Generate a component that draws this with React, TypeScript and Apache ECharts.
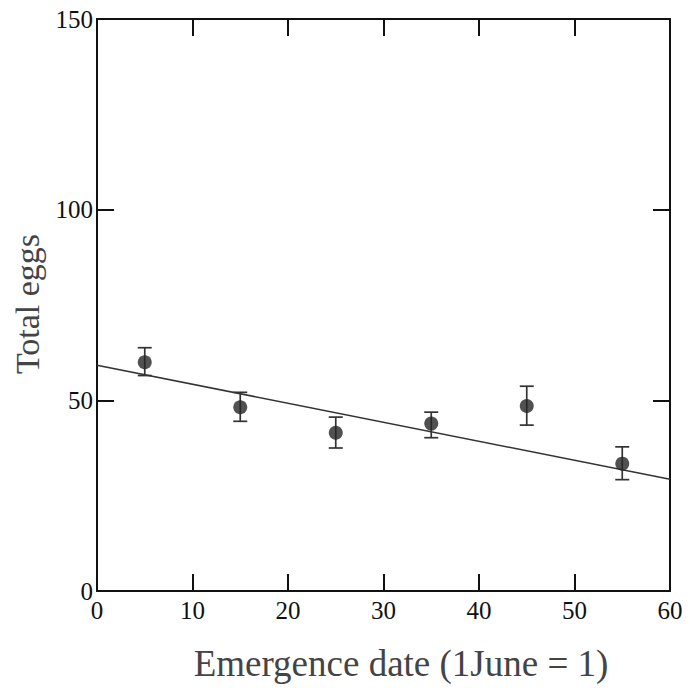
import React, { useEffect, useRef } from "react";
import * as echarts from "echarts";

const xValues = [5, 15, 25, 35, 45, 55];
const meanEggs = [60.0, 48.2, 41.5, 43.9, 48.5, 33.4];
const errLow = [56.5, 44.5, 37.5, 40.2, 43.5, 29.2];
const errHigh = [63.8, 52.1, 45.6, 46.9, 53.7, 37.8];
const fitX = [0, 60];
const fitY = [59.2, 29.3];
const xTitle = "Emergence date (1June = 1)";
const yTitle = "Total eggs";

const FONT = "'Liberation Serif', 'DejaVu Serif', serif";

export default function App() {
  const ref = useRef<HTMLDivElement>(null);
  useEffect(() => {
    document.body.style.margin = "0";
    if (!ref.current) return;
    const chart = echarts.init(ref.current, undefined, { renderer: "svg" });
    const gridLeft = 97;
    const gridTop = 19;
    const gridW = 573;
    const gridH = 572;
    const axisLine = { show: true, onZero: false, lineStyle: { color: "#111", width: 2 } };
    const tick = { show: true, inside: true, length: 17, lineStyle: { color: "#111", width: 2 } };
    const label = { fontFamily: FONT, fontSize: 25, color: "#111" };
    chart.setOption({
      animation: false,
      backgroundColor: "#fff",
      grid: { left: gridLeft, top: gridTop, width: gridW, height: gridH },
      xAxis: [
        {
          type: "value", min: 0, max: 60, interval: 10, position: "bottom",
          axisLine, axisTick: tick, splitLine: { show: false },
          axisLabel: { ...label, margin: 7 },
        },
        {
          type: "value", min: 0, max: 60, interval: 10, position: "top",
          axisLine, axisTick: tick, splitLine: { show: false },
          axisLabel: { show: false },
        },
      ],
      yAxis: [
        {
          type: "value", min: 0, max: 150, interval: 50, position: "left",
          axisLine, axisTick: tick, splitLine: { show: false },
          axisLabel: { ...label, margin: 4 },
        },
        {
          type: "value", min: 0, max: 150, interval: 50, position: "right",
          axisLine, axisTick: tick, splitLine: { show: false },
          axisLabel: { show: false },
        },
      ],
      graphic: [
        {
          type: "text",
          x: 401, y: 663,
          style: {
            text: xTitle, fontFamily: FONT, fontSize: 37, fill: "#444",
            align: "center", verticalAlign: "middle",
          },
        },
        {
          type: "text",
          x: 27, y: 304, rotation: Math.PI / 2,
          style: {
            text: yTitle, fontFamily: FONT, fontSize: 34, fill: "#444",
            align: "center", verticalAlign: "middle",
          },
        },
      ],
      series: [
        {
          type: "line",
          data: fitX.map((x, i) => [x, fitY[i]]),
          symbol: "none",
          lineStyle: { color: "#333", width: 1.5 },
          z: 2,
        },
        {
          type: "custom",
          data: xValues.map((x, i) => [x, errLow[i], errHigh[i]]),
          renderItem: (params: any, api: any) => {
            const x = api.value(0);
            const lo = api.coord([x, api.value(1)]);
            const hi = api.coord([x, api.value(2)]);
            const hw = 7;
            const style = { stroke: "#333", lineWidth: 1.7 };
            return {
              type: "group",
              children: [
                { type: "line", shape: { x1: lo[0], y1: lo[1], x2: hi[0], y2: hi[1] }, style },
                { type: "line", shape: { x1: lo[0] - hw, y1: lo[1], x2: lo[0] + hw, y2: lo[1] }, style },
                { type: "line", shape: { x1: hi[0] - hw, y1: hi[1], x2: hi[0] + hw, y2: hi[1] }, style },
              ],
            };
          },
          z: 3,
        },
        {
          type: "scatter",
          data: xValues.map((x, i) => [x, meanEggs[i]]),
          symbol: "circle",
          symbolSize: 14,
          itemStyle: { color: "#262626" },
          z: 4,
        },
      ],
    });
    return () => chart.dispose();
  }, []);
  return <div ref={ref} style={{ width: 690, height: 688 }} />;
}
